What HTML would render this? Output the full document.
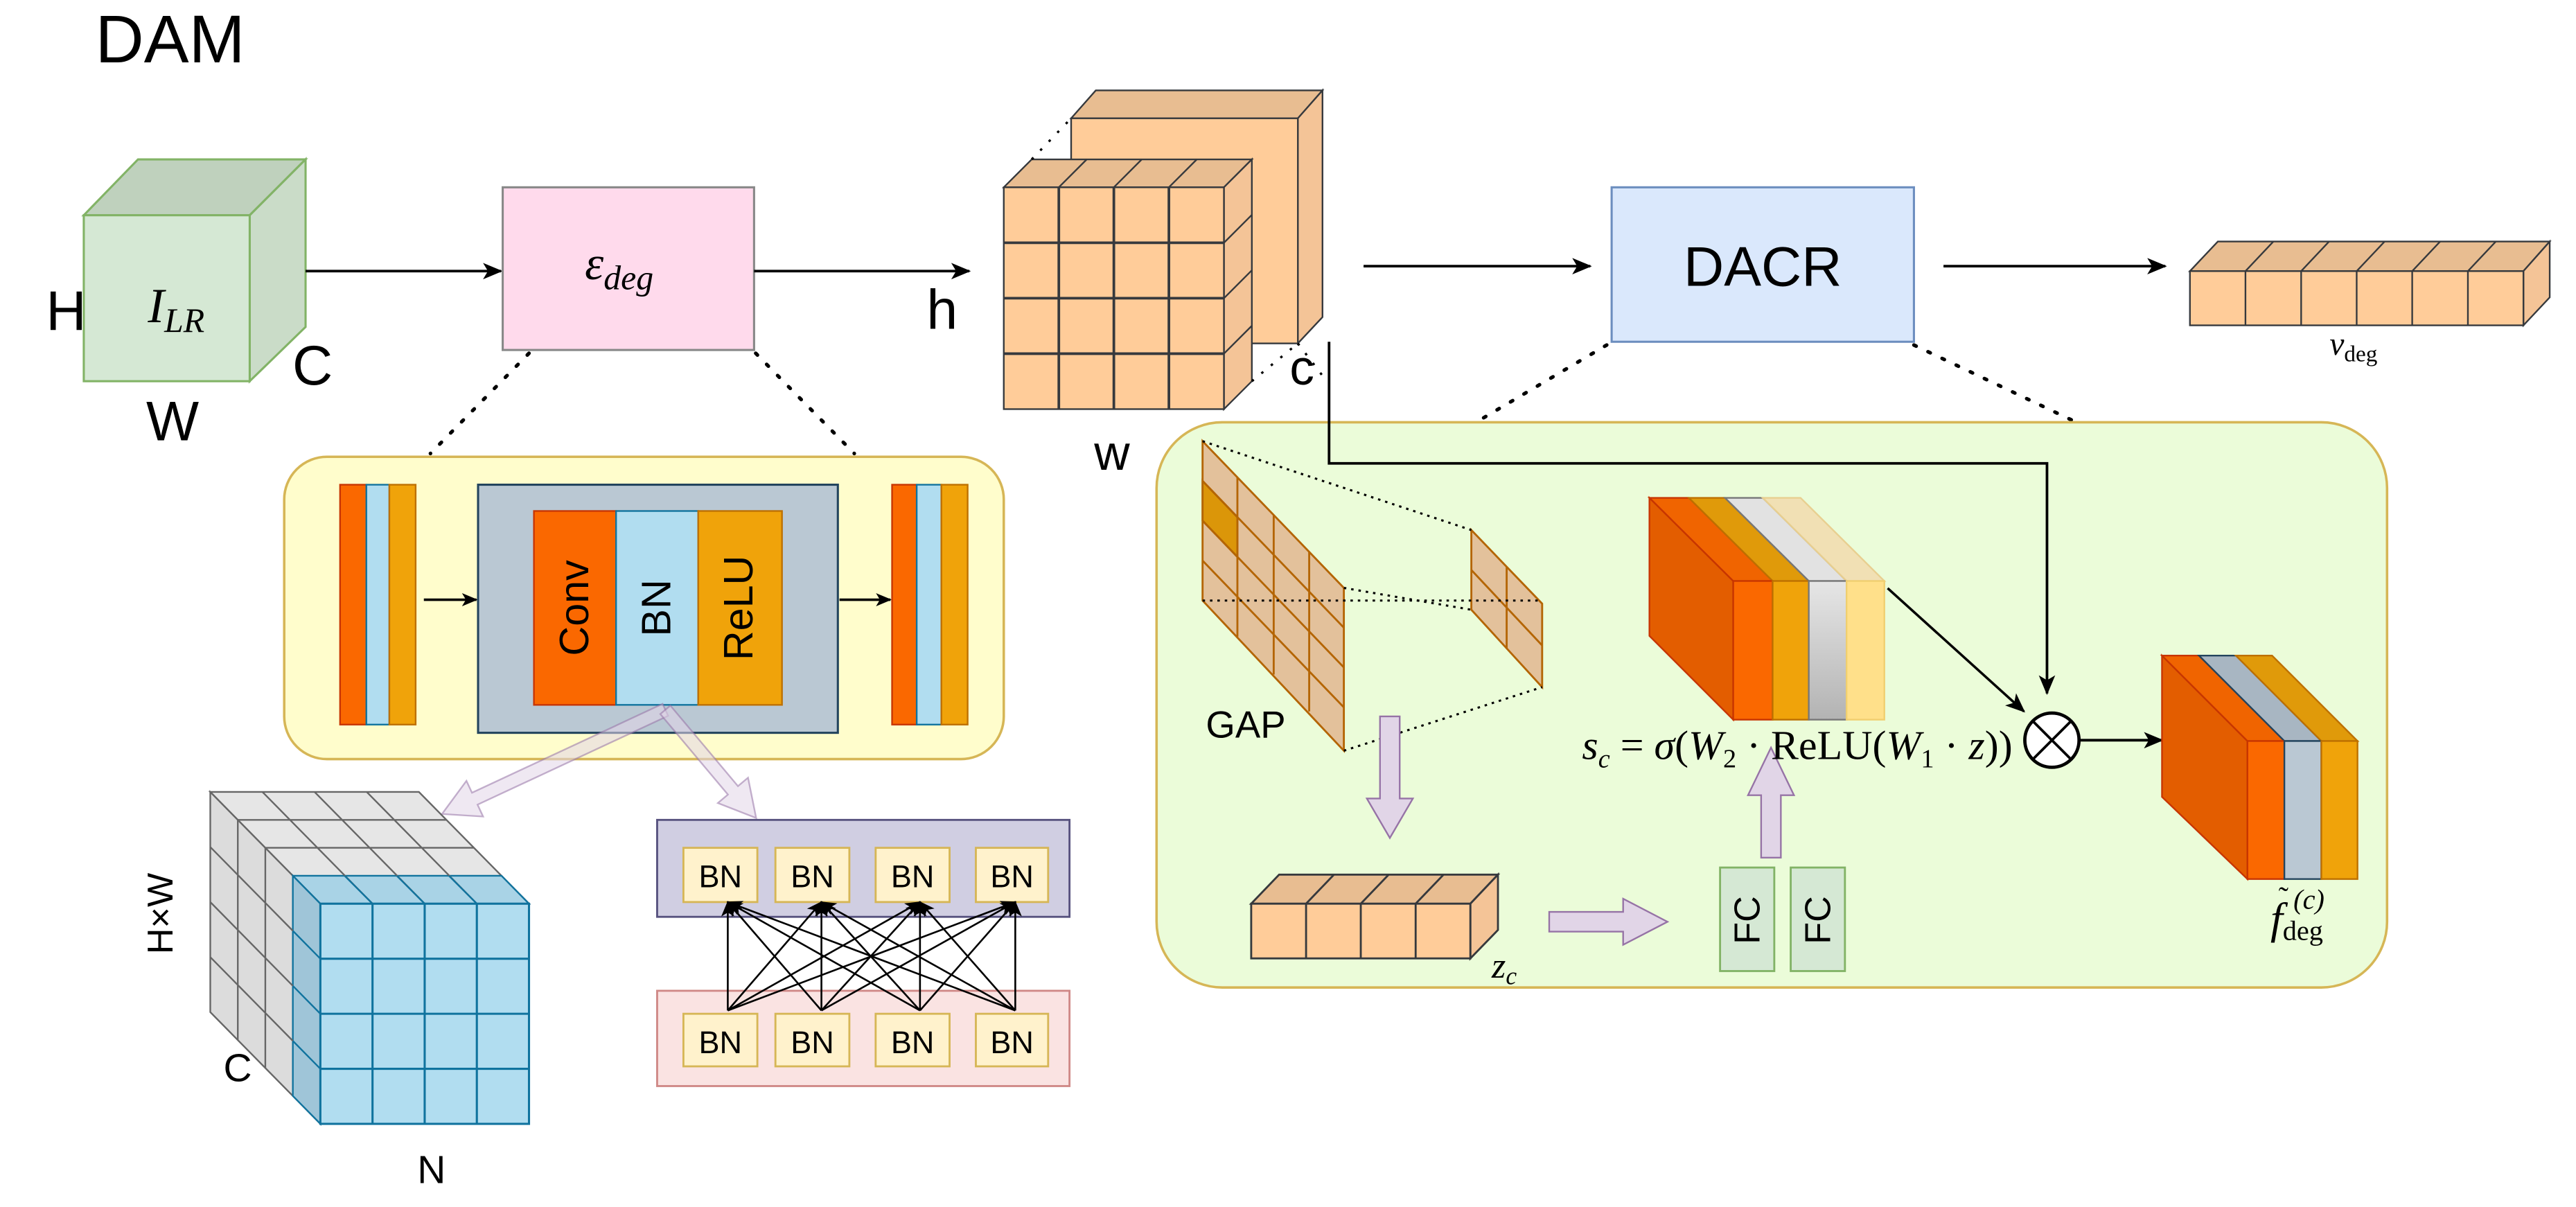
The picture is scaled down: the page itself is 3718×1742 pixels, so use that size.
<!DOCTYPE html>
<html><head><meta charset="utf-8"><style>
html,body{margin:0;padding:0;background:#fff;}
svg{display:block;}
text{font-family:"Liberation Sans",sans-serif;}
.m{font-family:"Liberation Serif",serif;font-style:italic;}
.r{font-family:"Liberation Serif",serif;}
</style></head><body>
<svg width="3718" height="1742" viewBox="0 0 1568 734.6" preserveAspectRatio="none" xmlns="http://www.w3.org/2000/svg">
<defs>
<marker id="ah" viewBox="0 0 12 10" refX="11" refY="5" markerWidth="12" markerHeight="10" markerUnits="userSpaceOnUse" orient="auto">
<path d="M0,0 L12,5 L0,10 L3,5 Z" fill="#000"/></marker>
<marker id="ahs" viewBox="0 0 12 10" refX="11" refY="5" markerWidth="10" markerHeight="8" markerUnits="userSpaceOnUse" orient="auto">
<path d="M0,0 L12,5 L0,10 L3,5 Z" fill="#000"/></marker>
<linearGradient id="gg" x1="0" y1="0" x2="0" y2="1"><stop offset="0" stop-color="#e6e6e6"/><stop offset="1" stop-color="#b3b3b3"/></linearGradient>
</defs>

<text x="58" y="38" font-size="41">DAM</text>

<!-- green cube -->
<polygon points="51,131 84,97 186,97 152,131" fill="#bfd1bd" stroke="#82b366" stroke-width="1.3"/>
<polygon points="152,131 186,97 186,199 152,232" fill="#cadcc8" stroke="#82b366" stroke-width="1.3"/>
<rect x="51" y="131" width="101" height="101" fill="#d5e8d4" stroke="#82b366" stroke-width="1.3"/>
<text x="90" y="196" class="m" font-size="30">I<tspan font-size="21" dy="6">LR</tspan></text>
<text x="28" y="201" font-size="34">H</text>
<text x="178" y="234" font-size="34">C</text>
<text x="89" y="268" font-size="34">W</text>

<line x1="186" y1="165" x2="305" y2="165" stroke="#000" stroke-width="1.6" marker-end="url(#ah)"/>
<rect x="306" y="114" width="153" height="99" fill="#ffdaec" stroke="#888" stroke-width="1.3"/>
<text x="356" y="170" class="m" font-size="29">ε<tspan font-size="21" dy="6">deg</tspan></text>
<line x1="459" y1="165" x2="590" y2="165" stroke="#000" stroke-width="1.6" marker-end="url(#ah)"/>
<text x="564" y="200" font-size="34">h</text>

<!-- orange cube back panel -->
<g stroke="#36393d" stroke-width="1">
<polygon points="652,72 667,55 805,55 790,72" fill="#e8bd91"/>
<polygon points="790,72 805,55 805,193 790,209" fill="#f4c497"/>
<rect x="652" y="72" width="138" height="137" fill="#ffcc99"/>
<polygon points="611,114 628,97 762,97 745,114" fill="#e8bd91"/>
<polygon points="745,114 762,97 762,232 745,249" fill="#f4c497"/>
<rect x="611" y="114" width="134" height="135" fill="#ffcc99"/>
<path d="M644.5,114V249 M678,114V249 M711.5,114V249 M611,147.75H745 M611,181.5H745 M611,215.25H745" fill="none" stroke-width="1.6"/>
<path d="M644.5,114L661.5,97 M678,114L695,97 M711.5,114L728.5,97 M745,147.75L762,130.75 M745,181.5L762,164.5 M745,215.25L762,198.25" fill="none"/>
</g>
<path d="M628,97L652,72 M762,232L790,209 M790,209L806,230" stroke="#000" stroke-width="1.4" stroke-dasharray="1.5,6" fill="none"/>
<text x="785" y="234" font-size="30">c</text>
<text x="666" y="286" font-size="30">w</text>

<line x1="830" y1="162" x2="968" y2="162" stroke="#000" stroke-width="1.6" marker-end="url(#ah)"/>
<rect x="981" y="114" width="184" height="94" fill="#dae8fc" stroke="#6c8ebf" stroke-width="1.3"/>
<text x="1073" y="174" font-size="34" text-anchor="middle">DACR</text>
<line x1="1183" y1="162" x2="1318" y2="162" stroke="#000" stroke-width="1.6" marker-end="url(#ah)"/>

<!-- v_deg -->
<g stroke="#36393d" stroke-width="1">
<polygon points="1333,165 1350,147 1552,147 1536,165" fill="#e8bd91"/>
<polygon points="1536,165 1552,147 1552,181 1536,198" fill="#f4c497"/>
<rect x="1333" y="165" width="203" height="33" fill="#ffcc99"/>
<path d="M1366.8,165V198 M1400.7,165V198 M1434.5,165V198 M1468.3,165V198 M1502.2,165V198 M1366.8,165L1383.8,147 M1400.7,165L1417.7,147 M1434.5,165L1451.5,147 M1468.3,165L1485.3,147 M1502.2,165L1519.2,147" fill="none"/>
</g>
<text x="1418" y="216" class="m" font-size="20">v<tspan class="r" font-style="normal" font-size="14" dy="4">deg</tspan></text>

<!-- dotted zoom lines -->
<g stroke="#000" stroke-width="2.2" stroke-dasharray="1.5,8" fill="none" stroke-linecap="round">
<line x1="322" y1="215" x2="262" y2="276"/>
<line x1="460" y1="215" x2="520" y2="276"/>
<line x1="978" y1="210" x2="890" y2="262"/>
<line x1="1165" y1="210" x2="1266" y2="258"/>
</g>

<!-- yellow encoder panel -->
<rect x="173" y="278" width="438" height="184" rx="26" fill="#fffdcc" stroke="#d6b656" stroke-width="1.5"/>
<rect x="207" y="295" width="16" height="146" fill="#fa6800" stroke="#c73500"/>
<rect x="223" y="295" width="14" height="146" fill="#b1ddf0" stroke="#10739e"/>
<rect x="237" y="295" width="16" height="146" fill="#f0a30a" stroke="#bd7000"/>
<line x1="258" y1="365" x2="290" y2="365" stroke="#000" stroke-width="1.5" marker-end="url(#ahs)"/>
<rect x="291" y="295" width="219" height="151" fill="#bac8d3" stroke="#23445d" stroke-width="1.3"/>
<rect x="325" y="311" width="50" height="118" fill="#fa6800" stroke="#c73500"/>
<rect x="375" y="311" width="50" height="118" fill="#b1ddf0" stroke="#10739e"/>
<rect x="425" y="311" width="51" height="118" fill="#f0a30a" stroke="#bd7000"/>
<text transform="translate(358,370) rotate(-90)" font-size="25" text-anchor="middle">Conv</text>
<text transform="translate(408,370) rotate(-90)" font-size="25" text-anchor="middle">BN</text>
<text transform="translate(458,370) rotate(-90)" font-size="25" text-anchor="middle">ReLU</text>
<line x1="511" y1="365" x2="542" y2="365" stroke="#000" stroke-width="1.5" marker-end="url(#ahs)"/>
<rect x="543" y="295" width="15" height="146" fill="#fa6800" stroke="#c73500"/>
<rect x="558" y="295" width="15" height="146" fill="#b1ddf0" stroke="#10739e"/>
<rect x="573" y="295" width="16" height="146" fill="#f0a30a" stroke="#bd7000"/>

<!-- lilac arrows from BN -->
<g fill="#e1d5e7" fill-opacity="0.55" stroke="#9673a6" stroke-opacity="0.55" stroke-width="1">
<polygon transform="translate(405,432) rotate(155)" points="0,-4 128,-4 128,-12 150,0 128,12 128,4 0,4"/>
<polygon transform="translate(405,432) rotate(50)" points="0,-4 64,-4 64,-12 86,0 64,12 64,4 0,4"/>
</g>

<!-- gray/blue cube -->
<g stroke-width="1">
<polygon points="128,482 255,482 322,550 195,550" fill="#e6e6e6" stroke="#666"/>
<polygon points="178.25,533 305.25,533 322,550 195,550" fill="#a9d3e6" stroke="#10739e"/>
<polygon points="128,482 195,550 195,684 128,616" fill="#dcdcdc" stroke="#666"/>
<polygon points="178.25,533 195,550 195,684 178.25,667" fill="#9fc5d8" stroke="#10739e"/>
<path d="M159.75,482L226.75,550 M191.5,482L258.5,550 M223.25,482L290.25,550 M144.75,499H271.75 M161.5,516H288.5 M144.75,499V633 M161.5,516V650 M128,515.5L178.25,566.5 M128,549L178.25,600 M128,582.5L178.25,633.5" fill="none" stroke="#666"/>
<path d="M209.75,533L226.75,550 M241.5,533L258.5,550 M273.25,533L290.25,550 M178.25,566.5L195,583.5 M178.25,600L195,617 M178.25,633.5L195,650.5" fill="none" stroke="#10739e"/>
<rect x="195" y="550" width="127" height="134" fill="#b1ddf0" stroke="#10739e" stroke-width="1.3"/>
<path d="M226.75,550V684 M258.5,550V684 M290.25,550V684 M195,583.5H322 M195,617H322 M195,650.5H322" fill="none" stroke="#10739e" stroke-width="1.3"/>
</g>
<text transform="translate(105,556) rotate(-90)" font-size="22" text-anchor="middle">H×W</text>
<text x="136" y="658" font-size="24">C</text>
<text x="254" y="720" font-size="24">N</text>

<!-- BN panels -->
<rect x="400" y="499" width="251" height="59" fill="#d0cee2" stroke="#56517e" stroke-width="1.2"/>
<rect x="400" y="603" width="251" height="58" fill="#fae3e2" stroke="#cf8886" stroke-width="1.2"/>
<g fill="#fff2cc" stroke="#d6b656" stroke-width="1.2">
<rect x="416" y="516" width="45" height="33"/><rect x="472" y="516" width="45" height="33"/><rect x="533" y="516" width="45" height="33"/><rect x="594" y="516" width="44" height="33"/>
<rect x="416" y="617" width="45" height="32"/><rect x="472" y="617" width="45" height="32"/><rect x="533" y="617" width="45" height="32"/><rect x="594" y="617" width="44" height="32"/>
</g>
<g font-size="19" text-anchor="middle">
<text x="438.5" y="540">BN</text><text x="494.5" y="540">BN</text><text x="555.5" y="540">BN</text><text x="616" y="540">BN</text>
<text x="438.5" y="641">BN</text><text x="494.5" y="641">BN</text><text x="555.5" y="641">BN</text><text x="616" y="641">BN</text>
</g>
<g stroke="#000" stroke-width="1.1" marker-end="url(#ahs)">
<line x1="443" y1="615" x2="443" y2="549"/><line x1="443" y1="615" x2="500" y2="549"/><line x1="443" y1="615" x2="560" y2="549"/><line x1="443" y1="615" x2="618" y2="549"/>
<line x1="500" y1="615" x2="443" y2="549"/><line x1="500" y1="615" x2="500" y2="549"/><line x1="500" y1="615" x2="560" y2="549"/><line x1="500" y1="615" x2="618" y2="549"/>
<line x1="560" y1="615" x2="443" y2="549"/><line x1="560" y1="615" x2="500" y2="549"/><line x1="560" y1="615" x2="560" y2="549"/><line x1="560" y1="615" x2="618" y2="549"/>
<line x1="618" y1="615" x2="443" y2="549"/><line x1="618" y1="615" x2="500" y2="549"/><line x1="618" y1="615" x2="560" y2="549"/><line x1="618" y1="615" x2="618" y2="549"/>
</g>

<!-- green DACR panel -->
<rect x="704" y="257" width="749" height="344" rx="40" fill="#ebfcd9" stroke="#d6b656" stroke-width="1.5"/>
<polyline points="809,208 809,282 1246,282 1246,422" fill="none" stroke="#000" stroke-width="1.6" marker-end="url(#ah)"/>

<!-- GAP grid -->
<g fill="#e3c19b" stroke="#b46504" stroke-width="1.2">
<polygon points="732,268.5 818,357.8 818,456.9 732,365.5"/>
<polygon points="732,292.7 753.2,314.8 753.2,339 732,316.9" fill="#db9609"/>
<path d="M753.2,290.5V387.5 M775.3,313.5V410.5 M796.9,336V433 M732,292.7L818,382 M732,316.9L818,406.2 M732,341.2L818,430.5" fill="none"/>
</g>
<g fill="#e3c19b" stroke="#b46504" stroke-width="1.2">
<polygon points="895.6,322.6 938.7,367.4 938.7,418.2 895.6,371.1"/>
<path d="M917.1,345V394.6 M895.6,346.9L938.7,392.8" fill="none"/>
</g>
<g stroke="#000" stroke-width="1.3" stroke-dasharray="1.5,3" fill="none">
<line x1="732" y1="268.5" x2="895.6" y2="322.6"/>
<line x1="818" y1="357.8" x2="895.6" y2="371.1"/>
<line x1="732" y1="365.5" x2="938.7" y2="365.5"/>
<line x1="818" y1="456.9" x2="938.7" y2="418.2"/>
</g>
<text x="734" y="449" font-size="23">GAP</text>

<!-- lilac arrows in panel -->
<g fill="#e1d5e7" stroke="#9673a6" stroke-width="1">
<polygon transform="translate(846,436) rotate(90)" points="0,-6 50,-6 50,-14 74,0 50,14 50,6 0,6"/>
<polygon transform="translate(943,561) rotate(0)" points="0,-6 45,-6 45,-14 72,0 45,14 45,6 0,6"/>
<polygon transform="translate(1078,522) rotate(-90)" points="0,-6 38,-6 38,-14 67,0 38,14 38,6 0,6"/>
</g>

<!-- z_c -->
<g stroke="#36393d" stroke-width="1.2">
<polygon points="761.6,550 778.6,532.3 911.8,532.3 895,550" fill="#e8bd91"/>
<polygon points="895,550 911.8,532.3 911.8,566 895,583.3" fill="#f4c497"/>
<rect x="761.6" y="550" width="133.4" height="33.3" fill="#ffcc99"/>
<path d="M795,550V583.3 M828.3,550V583.3 M861.7,550V583.3 M795,550L812,532.3 M828.3,550L845.3,532.3 M861.7,550L878.7,532.3" fill="none"/>
</g>
<text x="908" y="595" class="m" font-size="22">z<tspan font-size="15" dy="4">c</tspan></text>

<!-- FC -->
<rect x="1047" y="528" width="33" height="63" fill="#d5e8d4" stroke="#82b366" stroke-width="1.2"/>
<rect x="1090" y="528" width="33" height="63" fill="#d5e8d4" stroke="#82b366" stroke-width="1.2"/>
<text transform="translate(1071,560) rotate(-90)" font-size="22" text-anchor="middle">FC</text>
<text transform="translate(1114,560) rotate(-90)" font-size="22" text-anchor="middle">FC</text>

<!-- stack A -->
<g stroke-width="1">
<polygon points="1004,303 1055,353.6 1055,438 1004,387" fill="#e35d00" stroke="#c73500"/>
<polygon points="1004,303 1028,303 1079,353.6 1055,353.6" fill="#f06400" stroke="#c73500"/>
<polygon points="1028,303 1050,303 1101,353.6 1079,353.6" fill="#e09a0a" stroke="#bd7000"/>
<polygon points="1050,303 1073,303 1124,353.6 1101,353.6" fill="#e2e2e2" stroke="#777"/>
<polygon points="1073,303 1096,303 1147,353.6 1124,353.6" fill="#f1e0b4" stroke="#e8cf90"/>
<rect x="1055" y="353.6" width="24" height="84.4" fill="#fa6800" stroke="#c73500"/>
<rect x="1079" y="353.6" width="22" height="84.4" fill="#f0a30a" stroke="#bd7000"/>
<rect x="1101" y="353.6" width="23" height="84.4" fill="url(#gg)" stroke="#777"/>
<rect x="1124" y="353.6" width="23" height="84.4" fill="#ffe08a" stroke="#f0cf70"/>
</g>
<text x="963" y="462" class="r" font-size="25" textLength="262" lengthAdjust="spacingAndGlyphs"><tspan class="m">s</tspan><tspan font-size="16" dy="5" class="m">c</tspan><tspan dy="-5"> = </tspan><tspan class="m">σ</tspan>(<tspan class="m">W</tspan><tspan font-size="16" dy="5">2</tspan><tspan dy="-5"> · ReLU(</tspan><tspan class="m">W</tspan><tspan font-size="16" dy="5">1</tspan><tspan dy="-5"> · </tspan><tspan class="m">z</tspan>))</text>
<line x1="1149" y1="358" x2="1232" y2="433" stroke="#000" stroke-width="1.5" marker-end="url(#ah)"/>
<circle cx="1249" cy="450.5" r="16.5" fill="#fff" stroke="#000" stroke-width="2"/>
<path d="M1237.3,438.8L1260.7,462.2 M1260.7,438.8L1237.3,462.2" stroke="#000" stroke-width="1.6"/>
<line x1="1265.5" y1="450.5" x2="1316" y2="450.5" stroke="#000" stroke-width="1.6" marker-end="url(#ah)"/>

<!-- stack B -->
<g stroke-width="1">
<polygon points="1316,399 1368,451 1368,535 1316,485" fill="#e35d00" stroke="#c73500"/>
<polygon points="1316,399 1338.5,399 1390.5,451 1368,451" fill="#f06400" stroke="#c73500"/>
<polygon points="1338.5,399 1361,399 1413,451 1390.5,451" fill="#a8b6c2" stroke="#23445d"/>
<polygon points="1361,399 1383,399 1435,451 1413,451" fill="#e09a0a" stroke="#bd7000"/>
<rect x="1368" y="451" width="22.5" height="84" fill="#fa6800" stroke="#c73500"/>
<rect x="1390.5" y="451" width="22.5" height="84" fill="#bac8d3" stroke="#23445d"/>
<rect x="1413" y="451" width="22" height="84" fill="#f0a30a" stroke="#bd7000"/>
</g>
<text x="1382" y="568" class="m" font-size="27">f<tspan class="r" font-style="normal" font-size="17" dy="4">deg</tspan></text>
<text x="1387" y="552" class="r" font-size="18">˜</text>
<text x="1396" y="553" class="m" font-size="17">(c)</text>
</svg>
</body></html>
